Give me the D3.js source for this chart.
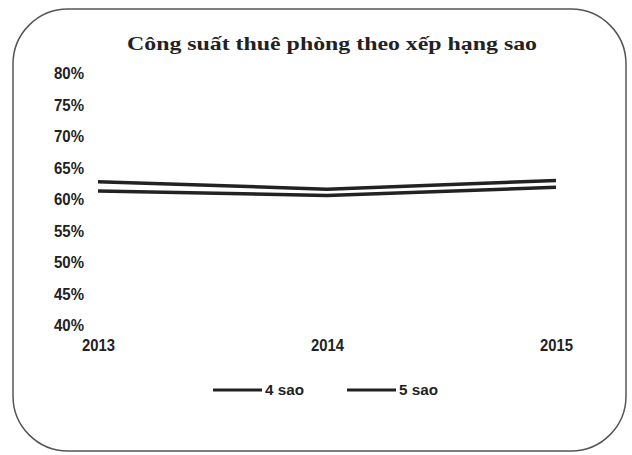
<!DOCTYPE html>
<html><head><meta charset="utf-8">
<script src="https://cdn.jsdelivr.net/npm/d3@7"></script>
<style>html,body{margin:0;padding:0;background:#fff;}</style>
</head><body>
<svg id="chart" width="632" height="455"></svg>
<script>
const title = "Công suất thuê phòng theo xếp hạng sao";
const years = ["2013", "2014", "2015"];
const series4 = [0.628, 0.616, 0.630];
const series5 = [0.613, 0.606, 0.619];
const seriesNames = ["4 sao", "5 sao"];
const yTicks = [0.40, 0.45, 0.50, 0.55, 0.60, 0.65, 0.70, 0.75, 0.80];

const svg = d3.select("#chart");
svg.append("rect").attr("x", 13).attr("y", 9).attr("width", 613).attr("height", 442)
  .attr("rx", 55).attr("ry", 55).attr("fill", "#fff").attr("stroke", "#555").attr("stroke-width", 1.5);

svg.append("text").attr("x", 332).attr("y", 50).attr("text-anchor", "middle")
  .attr("font-family", "Liberation Serif, serif").attr("font-weight", "bold").attr("font-size", 19)
  .attr("textLength", 410).attr("lengthAdjust", "spacingAndGlyphs")
  .attr("fill", "#222").text(title);

const x = d3.scalePoint().domain(years).range([98, 556]);
const y = d3.scaleLinear().domain([0.40, 0.80]).range([325, 73.5]);

const font = "'Liberation Sans', Arial, sans-serif";

const yAxis = svg.append("g").attr("transform", "translate(84,0)")
  .call(d3.axisLeft(y).tickValues(yTicks).tickFormat(d3.format(".0%")).tickSize(0).tickPadding(0));
yAxis.select(".domain").remove();
yAxis.selectAll("text").attr("font-family", font).attr("font-weight", "bold").attr("font-size", 17)
  .attr("textLength", 30).attr("lengthAdjust", "spacingAndGlyphs").attr("fill", "#222");

const xAxis = svg.append("g").attr("transform", "translate(0,336)")
  .call(d3.axisBottom(x).tickSize(0).tickPadding(3));
xAxis.select(".domain").remove();
xAxis.selectAll("text").attr("font-family", font).attr("font-weight", "bold").attr("font-size", 17)
  .attr("textLength", 33).attr("lengthAdjust", "spacingAndGlyphs").attr("fill", "#222");

const line = d3.line().x((d, i) => x(years[i])).y(d => y(d));
[series4, series5].forEach(s => {
  svg.append("path").datum(s).attr("d", line).attr("fill", "none")
    .attr("stroke", "#222").attr("stroke-width", 3.5);
});

const legendX = [213, 347];
seriesNames.forEach((n, i) => {
  svg.append("line").attr("x1", legendX[i]).attr("x2", legendX[i] + 49).attr("y1", 390).attr("y2", 390)
    .attr("stroke", "#222").attr("stroke-width", 3);
  svg.append("text").attr("x", legendX[i] + 52).attr("y", 395)
    .attr("font-family", font).attr("font-weight", "bold").attr("font-size", 14)
    .attr("textLength", 39).attr("lengthAdjust", "spacingAndGlyphs").attr("fill", "#222").text(n);
});
</script>
</body></html>
